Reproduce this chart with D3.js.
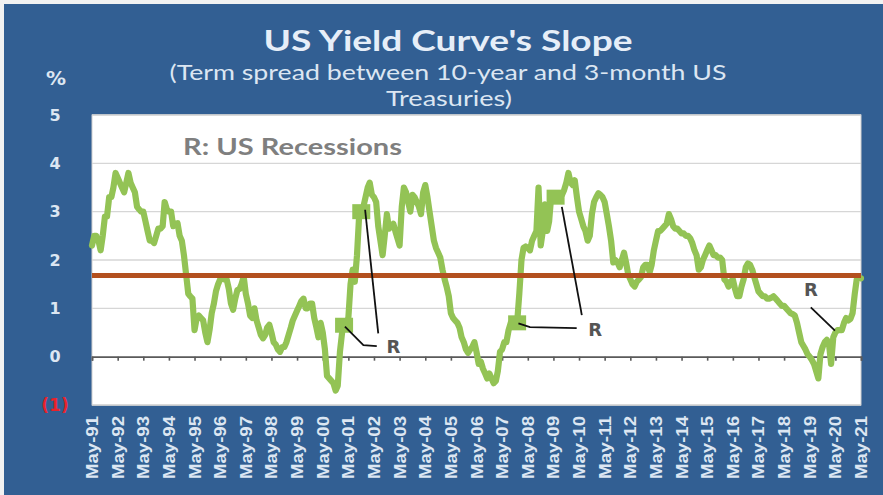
<!DOCTYPE html>
<html>
<head>
<meta charset="utf-8">
<script src="https://cdn.jsdelivr.net/npm/d3@7"></script>
<style>
  html, body { margin: 0; padding: 0; background: #ffffff; }
  svg { display: block; }
</style>
</head>
<body>
<svg id="chart" width="883" height="495"></svg>
<script>
// ---------------- DATA ----------------
const title = "US Yield Curve's Slope";
const subtitle1 = "(Term spread between 10-year and 3-month US";
const subtitle2 = "Treasuries)";
const yUnit = "%";
const legendNote = "R: US Recessions";
const startMonth = "1991-05";   // first monthly observation (May-91)

// Monthly term spread (10y minus 3m), May-91 .. May-21
const spread = [
  // May-91 .. Apr-92
  2.3, 2.5, 2.5, 2.4, 2.2, 2.5, 2.9, 2.9, 3.3, 3.3, 3.5, 3.8,
  // May-92 .. Apr-93
  3.7, 3.6, 3.5, 3.4, 3.6, 3.8, 3.6, 3.5, 3.4, 3.1, 3.05, 3.0,
  // May-93 .. Apr-94
  3.0, 2.8, 2.6, 2.4, 2.4, 2.35, 2.5, 2.65, 2.65, 2.7, 3.2, 3.05,
  // May-94 .. Apr-95
  3.0, 3.0, 2.7, 2.75, 2.76, 2.5, 2.4, 2.1, 1.7, 1.3, 1.25, 1.2,
  // May-95 .. Apr-96
  0.55, 0.8, 0.85, 0.8, 0.75, 0.5, 0.3, 0.55, 0.9, 1.1, 1.35, 1.5,
  // May-96 .. Apr-97
  1.6, 1.62, 1.6, 1.6, 1.4, 1.1, 0.97, 1.2, 1.38, 1.4, 1.5, 1.65,
  // May-97 .. Apr-98
  1.3, 1.1, 0.85, 0.8, 1.0, 0.75, 0.6, 0.45, 0.38, 0.45, 0.6, 0.66,
  // May-98 .. Apr-99
  0.5, 0.3, 0.25, 0.15, 0.1, 0.2, 0.2, 0.3, 0.45, 0.6, 0.75, 0.85,
  // May-99 .. Apr-00
  0.95, 1.05, 1.15, 1.2, 1.0, 1.0, 1.1, 1.1, 0.8, 0.6, 0.4, 0.7,
  // May-00 .. Apr-01
  0.5, 0.15, -0.4, -0.45, -0.5, -0.55, -0.7, -0.6, 0.1, 0.5, 0.65, 0.7,
  // May-01 .. Apr-02
  0.8, 1.5, 1.8, 1.55, 2.1, 2.9, 3.0, 3.1, 3.3, 3.5, 3.6, 3.35,
  // May-02 .. Apr-03
  3.3, 3.2, 2.7, 2.4, 2.1, 2.5, 2.95, 2.65, 2.7, 2.75, 2.6, 2.45,
  // May-03 .. Apr-04
  2.3, 3.1, 3.5, 3.4, 3.2, 3.0, 3.35, 3.3, 3.2, 3.1, 2.95, 3.4,
  // May-04 .. Apr-05
  3.55, 3.3, 3.0, 2.7, 2.4, 2.25, 2.15, 2.05, 1.8, 1.6, 1.45, 1.25,
  // May-05 .. Apr-06
  0.9, 0.8, 0.75, 0.7, 0.6, 0.4, 0.3, 0.15, 0.08, 0.15, 0.2, 0.3,
  // May-06 .. Apr-07
  0.1, -0.15, -0.1, -0.25, -0.35, -0.45, -0.35, -0.45, -0.55, -0.5, -0.3, 0.1,
  // May-07 .. Apr-08
  0.15, 0.3, 0.3, 0.55, 0.7, 0.75, 0.75, 0.7, 1.3, 2.0, 2.25, 2.28,
  // May-08 .. Apr-09
  2.25, 2.2, 2.4, 2.5, 2.6, 3.5, 2.3, 2.6, 3.15, 2.6, 2.8, 3.35,
  // May-09 .. Apr-10
  3.35, 3.3, 3.35, 3.3, 3.35, 3.45, 3.6, 3.8, 3.6, 3.55, 3.65, 3.3,
  // May-10 .. Apr-11
  3.0, 2.85, 2.7, 2.6, 2.4, 2.5, 2.95, 3.2, 3.3, 3.38, 3.35, 3.3,
  // May-11 .. Apr-12
  3.2, 2.95, 2.7, 2.4, 1.95, 2.0, 1.95, 1.85, 2.0, 2.15, 1.95, 1.7,
  // May-12 .. Apr-13
  1.6, 1.5, 1.45, 1.55, 1.6, 1.65, 1.85, 1.9, 1.9, 1.75, 1.9, 2.2,
  // May-13 .. Apr-14
  2.4, 2.6, 2.6, 2.65, 2.7, 2.75, 2.95, 2.85, 2.7, 2.65, 2.65, 2.6,
  // May-14 .. Apr-15
  2.55, 2.55, 2.5, 2.5, 2.45, 2.35, 2.2, 2.1, 1.8, 1.85, 2.0, 2.1,
  // May-15 .. Apr-16
  2.2, 2.3, 2.2, 2.1, 2.1, 2.05, 2.05, 2.0, 1.6, 1.55, 1.45, 1.55,
  // May-16 .. Apr-17
  1.6, 1.4, 1.25, 1.25, 1.45, 1.6, 1.85, 1.93, 1.9, 1.8, 1.65, 1.5,
  // May-17 .. Apr-18
  1.35, 1.3, 1.25, 1.25, 1.2, 1.2, 1.22, 1.25, 1.2, 1.15, 1.1, 1.05,
  // May-18 .. Apr-19
  1.05, 1.0, 0.95, 0.9, 0.88, 0.85, 0.7, 0.5, 0.3, 0.22, 0.15, 0.05,
  // May-19 .. Apr-20
  0.0, -0.07, -0.15, -0.3, -0.45, 0.05, 0.2, 0.3, 0.35, 0.25, -0.15, 0.4,
  // May-20 .. May-21
  0.5, 0.55, 0.55, 0.55, 0.7, 0.8, 0.75, 0.78, 0.9, 1.3, 1.6, 1.62, 1.62
];

// Long-run average spread (horizontal reference line)
const averageSpread = 1.68;

// X-axis category labels (every May)
const xTickLabels = ["May-91","May-92","May-93","May-94","May-95","May-96","May-97","May-98",
  "May-99","May-00","May-01","May-02","May-03","May-04","May-05","May-06","May-07","May-08",
  "May-09","May-10","May-11","May-12","May-13","May-14","May-15","May-16","May-17","May-18",
  "May-19","May-20","May-21"];

// Y-axis tick values and labels
const yTickValues = [-1, 0, 1, 2, 3, 4, 5];
const yTickLabels = ["(1)", "0", "1", "2", "3", "4", "5"];

// Recession start / end markers (month offset from May-91)
const recessionMarks = [118, 126, 199, 217];

// Recession call-outs: leader line paths in (month offset, value) and "R" label spot
const recessionNotes = [
  { path: [[118.4, 0.62], [127, 0.24], [133.3, 0.22]], label: null },
  { path: [[127.8, 3.04], [134, 0.48]], label: [141, 0.21] },
  { path: [[199.6, 0.69], [205, 0.61], [226.9, 0.59]], label: [235.5, 0.56] },
  { path: [[219.9, 3.1], [229.3, 0.86]], label: null },
  { path: [[336.5, 1.02], [347.8, 0.54]], label: [336.6, 1.4] }
];

// ---------------- CHART ----------------
const W = 883, H = 495;
const plot = { left: 92, right: 861, top: 115, bottom: 405 };
const bg = "#325f93";
const lightText = "#dce6f2";

const svg = d3.select("#chart");
const parseMonth = d3.timeParse("%Y-%m");
const t0 = parseMonth(startMonth);
const dateAt = i => d3.timeMonth.offset(t0, i);

const x = d3.scaleTime()
  .domain([t0, dateAt(spread.length - 1)])
  .range([plot.left, plot.right]);
const y = d3.scaleLinear().domain([-1, 5]).range([plot.bottom, plot.top]);
// fractional month offset -> x position
const xOff = m => {
  const a = Math.floor(m), f = m - a;
  return x(dateAt(a)) + f * (x(dateAt(a + 1)) - x(dateAt(a)));
};

// outer frame
svg.append("rect").attr("x", 0).attr("y", 0).attr("width", W).attr("height", H).attr("fill", "#f2f2f2");
svg.append("rect").attr("x", 4).attr("y", 4).attr("width", W - 4).attr("height", H - 4).attr("fill", bg);

// plot area
svg.append("rect")
  .attr("x", plot.left).attr("y", plot.top)
  .attr("width", plot.right - plot.left).attr("height", plot.bottom - plot.top)
  .attr("fill", "#ffffff").attr("stroke", "#d0d0d0").attr("stroke-width", 1);

// gridlines
svg.append("g").selectAll("line")
  .data(yTickValues.filter(v => v !== 0))
  .join("line")
  .attr("x1", plot.left).attr("x2", plot.right)
  .attr("y1", d => y(d)).attr("y2", d => y(d))
  .attr("stroke", "#d6d6d6").attr("stroke-width", 1.3);

// zero axis with yearly ticks
const tickDates = xTickLabels.map((_, i) => dateAt(i * 12));
const xAxis = d3.axisBottom(x).tickValues(tickDates).tickSize(4).tickFormat("");
const gx = svg.append("g").attr("transform", `translate(0,${y(0)})`).call(xAxis);
gx.select(".domain").attr("stroke", "#5a5a5a").attr("stroke-width", 1.6);
gx.selectAll(".tick line").attr("stroke", "#5a5a5a").attr("stroke-width", 1.6);

// y tick labels
svg.append("g").selectAll("text")
  .data(yTickValues)
  .join("text")
  .attr("x", 55).attr("y", d => y(d))
  .attr("text-anchor", "middle").attr("dominant-baseline", "central")
  .attr("font-family", "DejaVu Sans, Verdana, sans-serif").attr("font-weight", "bold")
  .attr("font-size", d => d < 0 ? 17 : 16)
  .attr("fill", d => d < 0 ? "#e8232b" : lightText)
  .text((d, i) => yTickLabels[i]);

// x tick labels (rotated)
svg.append("g").selectAll("text")
  .data(xTickLabels)
  .join("text")
  .attr("transform", (d, i) => `translate(${x(tickDates[i])},${plot.bottom + 11}) rotate(-90)`)
  .attr("text-anchor", "end").attr("dominant-baseline", "central")
  .attr("font-family", "Liberation Sans, Arial, sans-serif").attr("font-weight", "bold")
  .attr("font-size", 16.5)
  .attr("textLength", 63).attr("lengthAdjust", "spacingAndGlyphs")
  .attr("fill", lightText)
  .text(d => d);

// spread line
const line = d3.line()
  .x((d, i) => x(dateAt(i)))
  .y(d => y(d));
svg.append("path")
  .datum(spread)
  .attr("d", line)
  .attr("fill", "none")
  .attr("stroke", "#93c355")
  .attr("stroke-width", 6.2)
  .attr("stroke-linejoin", "round")
  .attr("stroke-linecap", "round");

// recession markers
svg.append("g").selectAll("rect")
  .data(recessionMarks)
  .join("rect")
  .attr("x", d => x(dateAt(d)) - 9).attr("y", d => y(spread[d]) - 7.5)
  .attr("width", 18).attr("height", 15)
  .attr("fill", "#93c355");

// average line
svg.append("line")
  .attr("x1", x(dateAt(0))).attr("x2", x(dateAt(spread.length - 1)))
  .attr("y1", y(averageSpread)).attr("y2", y(averageSpread))
  .attr("stroke", "#b3501f").attr("stroke-width", 5);

// leader lines & R labels
svg.append("g").selectAll("path")
  .data(recessionNotes)
  .join("path")
  .attr("d", d => d3.line().x(p => xOff(p[0])).y(p => y(p[1]))(d.path))
  .attr("fill", "none").attr("stroke", "#111111").attr("stroke-width", 1.8);

svg.append("g").selectAll("text")
  .data(recessionNotes.filter(d => d.label))
  .join("text")
  .attr("x", d => xOff(d.label[0])).attr("y", d => y(d.label[1]))
  .attr("text-anchor", "middle").attr("dominant-baseline", "central")
  .attr("font-family", "DejaVu Sans, sans-serif").attr("font-weight", "bold")
  .attr("font-size", 18).attr("fill", "#555555")
  .text("R");

// note
svg.append("text")
  .attr("x", 183).attr("y", 155)
  .attr("font-family", "Lato, sans-serif").attr("font-weight", "bold")
  .attr("font-size", 23).attr("fill", "#7f7f7f")
  .attr("textLength", 219).attr("lengthAdjust", "spacingAndGlyphs")
  .text(legendNote);

// titles
svg.append("text")
  .attr("x", 448).attr("y", 51).attr("text-anchor", "middle")
  .attr("font-family", "Lato, sans-serif").attr("font-weight", "bold")
  .attr("font-size", 28).attr("fill", "#e6eef8")
  .attr("textLength", 369).attr("lengthAdjust", "spacingAndGlyphs")
  .text(title);
svg.append("text")
  .attr("x", 448).attr("y", 80).attr("text-anchor", "middle")
  .attr("font-family", "Lato, sans-serif")
  .attr("font-size", 20.5).attr("fill", lightText)
  .attr("textLength", 557).attr("lengthAdjust", "spacingAndGlyphs")
  .text(subtitle1);
svg.append("text")
  .attr("x", 449).attr("y", 106).attr("text-anchor", "middle")
  .attr("font-family", "Lato, sans-serif")
  .attr("font-size", 20.5).attr("fill", lightText)
  .attr("textLength", 126).attr("lengthAdjust", "spacingAndGlyphs")
  .text(subtitle2);
svg.append("text")
  .attr("x", 56).attr("y", 85).attr("text-anchor", "middle")
  .attr("font-family", "DejaVu Sans, Verdana, sans-serif").attr("font-weight", "bold")
  .attr("font-size", 20).attr("fill", lightText)
  .text(yUnit);
</script>
</body>
</html>
